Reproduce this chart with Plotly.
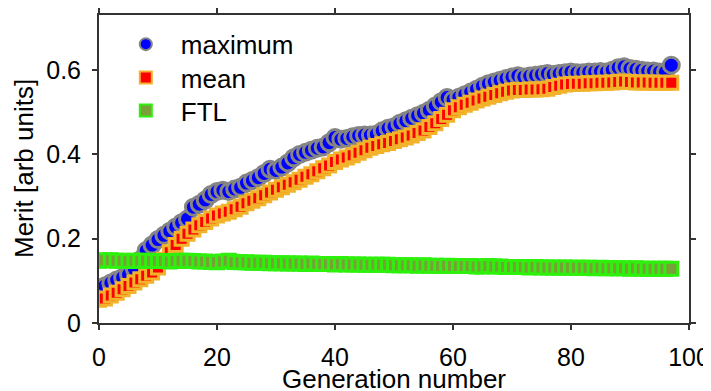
import plotly.graph_objects as go

generation = list(range(98))

maximum = [
    0.080, 0.088, 0.095, 0.102, 0.108, 0.115, 0.128, 0.150, 0.172, 0.185,
    0.198, 0.208, 0.218, 0.228, 0.238, 0.247, 0.275, 0.282, 0.292, 0.305,
    0.312, 0.315, 0.312, 0.318, 0.322, 0.332, 0.338, 0.345, 0.355, 0.365,
    0.362, 0.370, 0.380, 0.392, 0.400, 0.405, 0.410, 0.415, 0.418, 0.428,
    0.440, 0.436, 0.438, 0.442, 0.445, 0.446, 0.446, 0.448, 0.456, 0.462,
    0.466, 0.474, 0.480, 0.486, 0.492, 0.498, 0.505, 0.515, 0.525, 0.535,
    0.530, 0.536, 0.542, 0.548, 0.555, 0.562, 0.568, 0.572, 0.576, 0.580,
    0.584, 0.587, 0.584, 0.586, 0.588, 0.590, 0.592, 0.590, 0.592, 0.594,
    0.596, 0.594, 0.594, 0.596, 0.596, 0.597, 0.596, 0.600, 0.606, 0.608,
    0.604, 0.602, 0.600, 0.598, 0.598, 0.596, 0.596, 0.612,
]

mean = [
    0.055, 0.058, 0.065, 0.072, 0.080, 0.088, 0.096, 0.104, 0.112, 0.120,
    0.132, 0.150, 0.168, 0.185, 0.200, 0.212, 0.222, 0.232, 0.240, 0.248,
    0.255, 0.260, 0.264, 0.270, 0.276, 0.284, 0.290, 0.296, 0.303, 0.310,
    0.316, 0.322, 0.328, 0.334, 0.340, 0.347, 0.353, 0.360, 0.367, 0.374,
    0.382, 0.388, 0.393, 0.398, 0.404, 0.410, 0.416, 0.420, 0.424, 0.427,
    0.432, 0.436, 0.440, 0.445, 0.451, 0.457, 0.465, 0.474, 0.484, 0.494,
    0.505, 0.512, 0.518, 0.523, 0.528, 0.533, 0.537, 0.541, 0.545, 0.549,
    0.552, 0.553, 0.553, 0.554, 0.554, 0.555, 0.556, 0.560, 0.563, 0.566,
    0.567, 0.568, 0.568, 0.569, 0.569, 0.570, 0.570, 0.571, 0.572, 0.573,
    0.572, 0.571, 0.571, 0.571, 0.570, 0.570, 0.570, 0.570,
]

ftl = [
    0.148, 0.149, 0.149, 0.148, 0.148, 0.147, 0.148, 0.148, 0.148, 0.147,
    0.147, 0.147, 0.146, 0.147, 0.148, 0.148, 0.147, 0.146, 0.146, 0.145,
    0.144, 0.146, 0.148, 0.145, 0.144, 0.144, 0.143, 0.143, 0.143, 0.142,
    0.142, 0.142, 0.141, 0.141, 0.141, 0.140, 0.141, 0.140, 0.140, 0.140,
    0.139, 0.140, 0.139, 0.139, 0.139, 0.138, 0.138, 0.138, 0.138, 0.138,
    0.137, 0.137, 0.137, 0.137, 0.136, 0.137, 0.136, 0.136, 0.135, 0.136,
    0.135, 0.135, 0.135, 0.135, 0.134, 0.134, 0.135, 0.134, 0.134, 0.133,
    0.133, 0.133, 0.133, 0.132, 0.133, 0.132, 0.132, 0.132, 0.131, 0.132,
    0.131, 0.131, 0.131, 0.131, 0.130, 0.131, 0.130, 0.130, 0.130, 0.130,
    0.129, 0.130, 0.129, 0.129, 0.129, 0.129, 0.129, 0.129,
]

x_ticks = [0, 20, 40, 60, 80, 100]
y_ticks = [0, 0.2, 0.4, 0.6]
y_tick_labels = ["0", "0.2", "0.4", "0.6"]

FONT = "Liberation Sans, Arial, sans-serif"
FS = 26
TICK_FS = 25
AXIS_COLOR = "#333333"

fig = go.Figure()
fig.add_trace(go.Scatter(
    x=generation, y=maximum, mode="markers", name="maximum", legend="legend",
    marker=dict(symbol="circle", size=16, color="#0000ff",
                line=dict(color="#858585", width=3)),
))
fig.add_trace(go.Scatter(
    x=generation, y=mean, mode="markers", name="mean", legend="legend2",
    marker=dict(symbol="square", size=13, color="#ff0000",
                line=dict(color="#f2b22a", width=3)),
))
fig.add_trace(go.Scatter(
    x=generation, y=ftl, mode="markers", name="FTL", legend="legend3",
    marker=dict(symbol="square", size=13, color="#7a9e38",
                line=dict(color="#2ef00c", width=3)),
))

legend_common = dict(
    x=0.02, xanchor="left", yanchor="middle",
    bgcolor="rgba(0,0,0,0)", borderwidth=0,
    itemsizing="constant", itemwidth=60,
    font=dict(family=FONT, size=FS, color="black"),
)

# page body adds an 8px offset; figure sized so plot area lands at x 99-689, y 15-323
fig.update_layout(
    width=703, height=383,
    margin=dict(l=91, r=22, t=7, b=68, autoexpand=False),
    paper_bgcolor="white", plot_bgcolor="white",
    font=dict(family=FONT, size=FS, color="black"),
    showlegend=True,
    legend=dict(y=0.905, **legend_common),
    legend2=dict(y=0.797, **legend_common),
    legend3=dict(y=0.690, **legend_common),
    annotations=[
        dict(text="Merit [arb units]", xref="paper", yref="paper",
             x=0, y=0.5, xanchor="center", yanchor="middle",
             xshift=-75, textangle=-90, showarrow=False,
             font=dict(family=FONT, size=FS, color="black")),
        dict(text="Generation number", xref="paper", yref="paper",
             x=0.5, y=0, xanchor="center", yanchor="middle",
             yshift=-56, showarrow=False,
             font=dict(family=FONT, size=FS, color="black")),
    ],
)
fig.update_xaxes(
    range=[0, 100], tickvals=x_ticks, ticks="outside", ticklen=5,
    tickwidth=1.5, tickcolor=AXIS_COLOR, ticklabelstandoff=6,
    showline=True, linecolor=AXIS_COLOR, linewidth=2, mirror="ticks",
    showgrid=False, zeroline=False, automargin=False,
    tickfont=dict(family=FONT, size=TICK_FS, color="black"),
)
fig.update_yaxes(
    range=[0, 0.731], tickvals=y_ticks, ticktext=y_tick_labels,
    ticks="outside", ticklen=5, tickwidth=1.5, tickcolor=AXIS_COLOR,
    ticklabelstandoff=6,
    showline=True, linecolor=AXIS_COLOR, linewidth=2, mirror="ticks",
    showgrid=False, zeroline=False, automargin=False,
    tickfont=dict(family=FONT, size=TICK_FS, color="black"),
)

fig.write_html("out.html")
